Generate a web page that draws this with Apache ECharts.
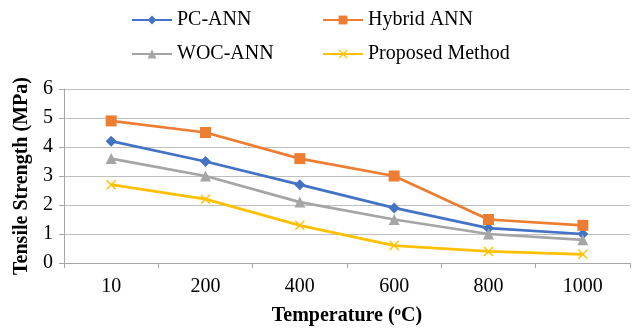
<!DOCTYPE html>
<html>
<head>
<meta charset="utf-8">
<script src="https://cdn.jsdelivr.net/npm/echarts@6/dist/echarts.min.js"></script>
<style>
  html, body { margin: 0; padding: 0; background: #fff; }
  #chart { width: 634px; height: 331px; }
</style>
</head>
<body>
<div id="chart"></div>
<script>
// data
const temperatures = ['10', '200', '400', '600', '800', '1000'];
const pcAnn = [4.2, 3.5, 2.7, 1.9, 1.2, 1.0];
const hybridAnn = [4.9, 4.5, 3.6, 3.0, 1.5, 1.3];
const wocAnn = [3.6, 3.0, 2.1, 1.5, 1.0, 0.8];
const proposed = [2.7, 2.2, 1.3, 0.6, 0.4, 0.3];

const FONT = '"Liberation Serif", "Times New Roman", serif';
const crossSymbol = 'path://M0,1 L1,0 L5,4 L9,0 L10,1 L6,5 L10,9 L9,10 L5,6 L1,10 L0,9 L4,5 Z';

const chart = echarts.init(document.getElementById('chart'));

function legendAt(name, left, top) {
    return {
        data: [name],
        left: left,
        top: top,
        itemWidth: 40,
        itemHeight: 11,
        itemGap: 4,
        textStyle: { fontFamily: FONT, fontSize: 20, color: '#000' }
    };
}

function lineSeries(name, data, color, symbol, size) {
    return {
        name: name,
        type: 'line',
        data: data,
        symbol: symbol,
        symbolSize: size,
        lineStyle: { color: color, width: 2.75 },
        itemStyle: { color: color },
        emphasis: { disabled: true }
    };
}

chart.setOption({
    animation: false,
    legend: [
        legendAt('PC-ANN', 126, 5),
        legendAt('Hybrid ANN', 317, 5),
        legendAt('WOC-ANN', 126, 39),
        legendAt('Proposed Method', 317, 39)
    ],
    grid: { left: 64, right: 4, top: 89, bottom: 64 },
    xAxis: {
        type: 'category',
        data: temperatures,
        boundaryGap: true,
        name: '{b|Temperature (}{s|o}{b|C)}',
        nameLocation: 'middle',
        nameGap: 42,
        nameTextStyle: {
            rich: {
                b: { fontFamily: FONT, fontSize: 20, fontWeight: 'bold', color: '#000' },
                s: { fontFamily: FONT, fontSize: 13, fontWeight: 'bold', color: '#000', verticalAlign: 'top', padding: [0, 0, 9, 0] }
            }
        },
        axisLine: { lineStyle: { color: '#a6a6a6', width: 1 } },
        axisTick: { show: true, length: 5, lineStyle: { color: '#a6a6a6' } },
        axisLabel: { fontFamily: FONT, fontSize: 20, color: '#000', margin: 14 }
    },
    yAxis: {
        type: 'value',
        min: 0,
        max: 6,
        interval: 1,
        name: 'Tensile Strength (MPa)',
        nameLocation: 'middle',
        nameGap: 30,
        nameTextStyle: { fontFamily: FONT, fontSize: 20, fontWeight: 'bold', color: '#000' },
        axisLine: { show: true, lineStyle: { color: '#a6a6a6', width: 1 } },
        axisTick: { show: true, length: 5, lineStyle: { color: '#a6a6a6' } },
        axisLabel: { fontFamily: FONT, fontSize: 20, color: '#000', margin: 11 },
        splitLine: { lineStyle: { color: '#bfbfbf', width: 1 } }
    },
    series: [
        lineSeries('PC-ANN', pcAnn, '#4472C4', 'diamond', 11),
        lineSeries('Hybrid ANN', hybridAnn, '#ED7D31', 'rect', 11),
        lineSeries('WOC-ANN', wocAnn, '#A5A5A5', 'triangle', 11),
        lineSeries('Proposed Method', proposed, '#FFC000', crossSymbol, 10)
    ]
});
</script>
</body>
</html>
